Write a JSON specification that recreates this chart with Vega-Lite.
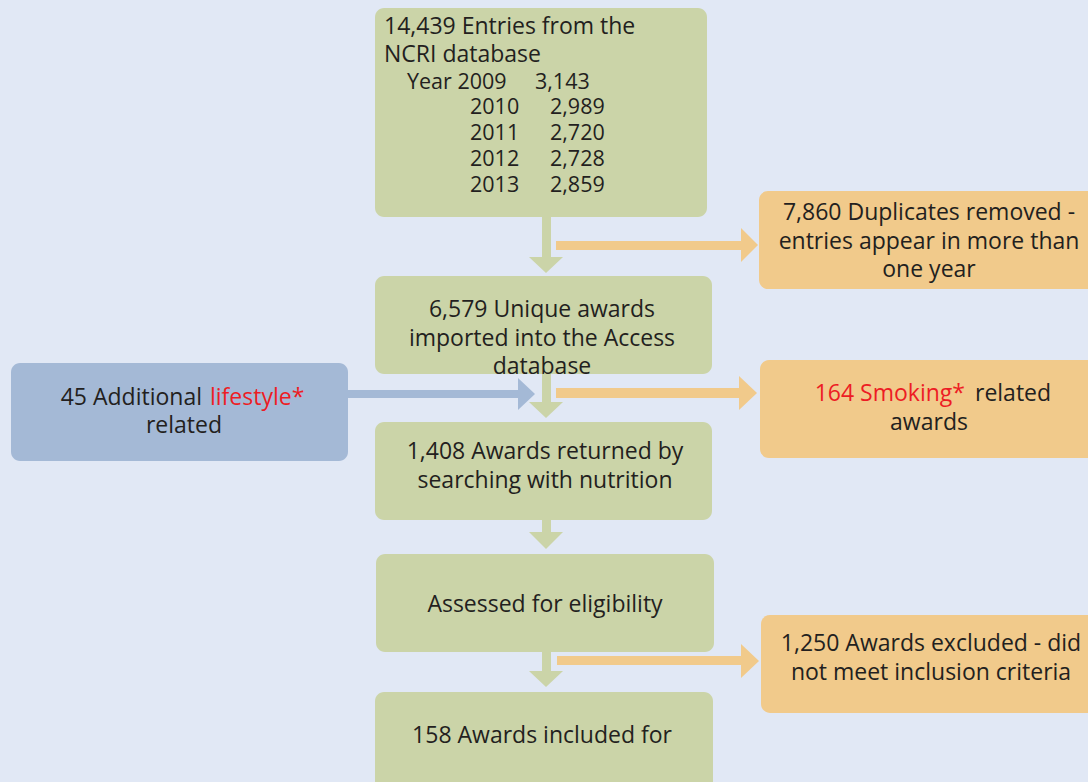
{
  "$schema": "https://vega.github.io/schema/vega-lite/v6.json",
  "width": 1088,
  "height": 782,
  "autosize": {"type": "fit", "contains": "padding"},
  "padding": 0,
  "background": "#e1e8f5",
  "config": {"view": {"stroke": null}},
  "datasets": {
    "boxes": [
      {"node": "entries", "x0": 375, "x1": 707, "y0": 8, "y1": 217, "group": "green"},
      {"node": "duplicates", "x0": 759, "x1": 1110, "y0": 191, "y1": 289, "group": "orange"},
      {"node": "unique", "x0": 375, "x1": 712, "y0": 276, "y1": 374, "group": "green"},
      {"node": "lifestyle", "x0": 11, "x1": 348, "y0": 363, "y1": 461, "group": "blue"},
      {"node": "smoking", "x0": 760, "x1": 1110, "y0": 360, "y1": 458, "group": "orange"},
      {"node": "returned", "x0": 375, "x1": 712, "y0": 422, "y1": 520, "group": "green"},
      {"node": "assessed", "x0": 376, "x1": 714, "y0": 554, "y1": 652, "group": "green"},
      {"node": "excluded", "x0": 761, "x1": 1110, "y0": 615, "y1": 713, "group": "orange"},
      {"node": "included", "x0": 375, "x1": 713, "y0": 692, "y1": 810, "group": "green"}
    ],
    "shafts": [
      {"id": "g1", "x0": 542, "x1": 551, "y0": 217, "y1": 258, "group": "green"},
      {"id": "g2", "x0": 542, "x1": 551, "y0": 374, "y1": 403, "group": "green"},
      {"id": "g3", "x0": 542, "x1": 551, "y0": 520, "y1": 533, "group": "green"},
      {"id": "g4", "x0": 542, "x1": 551, "y0": 652, "y1": 672, "group": "green"},
      {"id": "o1", "x0": 556, "x1": 742, "y0": 241, "y1": 250, "group": "orange"},
      {"id": "o2", "x0": 556, "x1": 740, "y0": 388, "y1": 398, "group": "orange"},
      {"id": "o3", "x0": 557, "x1": 742, "y0": 656, "y1": 665, "group": "orange"},
      {"id": "b1", "x0": 348, "x1": 519, "y0": 390, "y1": 398, "group": "blue"}
    ],
    "headsDown": [
      {"id": "g1", "y": 257, "xa": 529, "xb": 563, "group": "green"},
      {"id": "g1", "y": 273, "xa": 546, "xb": 546, "group": "green"},
      {"id": "g2", "y": 402, "xa": 529, "xb": 563, "group": "green"},
      {"id": "g2", "y": 418, "xa": 546, "xb": 546, "group": "green"},
      {"id": "g3", "y": 532, "xa": 529, "xb": 563, "group": "green"},
      {"id": "g3", "y": 549, "xa": 546, "xb": 546, "group": "green"},
      {"id": "g4", "y": 671, "xa": 529, "xb": 563, "group": "green"},
      {"id": "g4", "y": 687, "xa": 546, "xb": 546, "group": "green"}
    ],
    "headsRight": [
      {"id": "o1", "x": 741, "ya": 228, "yb": 262, "group": "orange"},
      {"id": "o1", "x": 758, "ya": 245, "yb": 245, "group": "orange"},
      {"id": "o2", "x": 739, "ya": 376, "yb": 410, "group": "orange"},
      {"id": "o2", "x": 757, "ya": 393, "yb": 393, "group": "orange"},
      {"id": "o3", "x": 741, "ya": 644, "yb": 678, "group": "orange"},
      {"id": "o3", "x": 759, "ya": 661, "yb": 661, "group": "orange"},
      {"id": "b1", "x": 518, "ya": 378, "yb": 410, "group": "blue"},
      {"id": "b1", "x": 535, "ya": 394, "yb": 394, "group": "blue"}
    ],
    "labels": [
      {"text": "14,439 Entries from the", "x": 384, "y": 27, "anchor": "left", "tier": "main", "tone": "plain"},
      {"text": "NCRI database", "x": 384, "y": 55, "anchor": "left", "tier": "main", "tone": "plain"},
      {"text": "Year 2009", "x": 407, "y": 83, "anchor": "left", "tier": "sub", "tone": "plain"},
      {"text": "3,143", "x": 535, "y": 83, "anchor": "left", "tier": "sub", "tone": "plain"},
      {"text": "2010", "x": 470, "y": 108, "anchor": "left", "tier": "sub", "tone": "plain"},
      {"text": "2,989", "x": 550, "y": 108, "anchor": "left", "tier": "sub", "tone": "plain"},
      {"text": "2011", "x": 470, "y": 134, "anchor": "left", "tier": "sub", "tone": "plain"},
      {"text": "2,720", "x": 550, "y": 134, "anchor": "left", "tier": "sub", "tone": "plain"},
      {"text": "2012", "x": 470, "y": 160, "anchor": "left", "tier": "sub", "tone": "plain"},
      {"text": "2,728", "x": 550, "y": 160, "anchor": "left", "tier": "sub", "tone": "plain"},
      {"text": "2013", "x": 470, "y": 186, "anchor": "left", "tier": "sub", "tone": "plain"},
      {"text": "2,859", "x": 550, "y": 186, "anchor": "left", "tier": "sub", "tone": "plain"},
      {"text": "7,860 Duplicates removed -", "x": 929, "y": 213, "anchor": "center", "tier": "main", "tone": "plain"},
      {"text": "entries appear in more than", "x": 929, "y": 242, "anchor": "center", "tier": "main", "tone": "plain"},
      {"text": "one year", "x": 929, "y": 270, "anchor": "center", "tier": "main", "tone": "plain"},
      {"text": "6,579 Unique awards", "x": 542, "y": 310, "anchor": "center", "tier": "main", "tone": "plain"},
      {"text": "imported into the Access", "x": 542, "y": 339, "anchor": "center", "tier": "main", "tone": "plain"},
      {"text": "database", "x": 542, "y": 367, "anchor": "center", "tier": "main", "tone": "plain"},
      {"text": "45 Additional", "x": 202, "y": 398, "anchor": "right", "tier": "main", "tone": "plain"},
      {"text": "lifestyle*", "x": 210, "y": 398, "anchor": "left", "tier": "main", "tone": "keyword"},
      {"text": "related", "x": 184, "y": 426, "anchor": "center", "tier": "main", "tone": "plain"},
      {"text": "164 Smoking*", "x": 965, "y": 394, "anchor": "right", "tier": "main", "tone": "keyword"},
      {"text": "related", "x": 975, "y": 394, "anchor": "left", "tier": "main", "tone": "plain"},
      {"text": "awards", "x": 929, "y": 423, "anchor": "center", "tier": "main", "tone": "plain"},
      {"text": "1,408 Awards returned by", "x": 545, "y": 452, "anchor": "center", "tier": "main", "tone": "plain"},
      {"text": "searching with nutrition", "x": 545, "y": 481, "anchor": "center", "tier": "main", "tone": "plain"},
      {"text": "Assessed for eligibility", "x": 545, "y": 605, "anchor": "center", "tier": "main", "tone": "plain"},
      {"text": "1,250 Awards excluded - did", "x": 931, "y": 644, "anchor": "center", "tier": "main", "tone": "plain"},
      {"text": "not meet inclusion criteria", "x": 931, "y": 673, "anchor": "center", "tier": "main", "tone": "plain"},
      {"text": "158 Awards included for", "x": 542, "y": 736, "anchor": "center", "tier": "main", "tone": "plain"}
    ]
  },
  "layer": [
    {
      "data": {"name": "boxes"},
      "mark": {"type": "rect", "cornerRadius": 9, "clip": true},
      "encoding": {
        "x": {"field": "x0", "type": "quantitative", "scale": {"domain": [0, 1088], "nice": false, "zero": false}, "axis": null},
        "x2": {"field": "x1"},
        "y": {"field": "y0", "type": "quantitative", "scale": {"domain": [0, 782], "nice": false, "zero": false, "reverse": true}, "axis": null},
        "y2": {"field": "y1"},
        "color": {"field": "group", "type": "nominal", "legend": null, "scale": {"domain": ["green", "orange", "blue", "plain", "keyword"], "range": ["#cbd4a8", "#f1ca8b", "#a4b9d6", "#231f20", "#ed1c24"]}}
      }
    },
    {
      "data": {"name": "shafts"},
      "mark": {"type": "rect", "clip": true},
      "encoding": {
        "x": {"field": "x0", "type": "quantitative", "axis": null},
        "x2": {"field": "x1"},
        "y": {"field": "y0", "type": "quantitative", "axis": null},
        "y2": {"field": "y1"},
        "color": {"field": "group", "type": "nominal", "legend": null}
      }
    },
    {
      "data": {"name": "headsDown"},
      "mark": {"type": "area", "orient": "horizontal", "clip": true},
      "encoding": {
        "y": {"field": "y", "type": "quantitative", "axis": null},
        "x": {"field": "xa", "type": "quantitative", "axis": null},
        "x2": {"field": "xb"},
        "detail": {"field": "id"},
        "color": {"field": "group", "type": "nominal", "legend": null}
      }
    },
    {
      "data": {"name": "headsRight"},
      "mark": {"type": "area", "orient": "vertical", "clip": true},
      "encoding": {
        "x": {"field": "x", "type": "quantitative", "axis": null},
        "y": {"field": "ya", "type": "quantitative", "axis": null},
        "y2": {"field": "yb"},
        "detail": {"field": "id"},
        "color": {"field": "group", "type": "nominal", "legend": null}
      }
    },
    {
      "data": {"name": "labels"},
      "transform": [{"filter": "datum.anchor === 'center' && datum.tier === 'main'"}],
      "mark": {"type": "text", "align": "center", "baseline": "middle", "font": "Open Sans", "fontSize": 23},
      "encoding": {
        "x": {"field": "x", "type": "quantitative", "axis": null},
        "y": {"field": "y", "type": "quantitative", "axis": null},
        "text": {"field": "text"},
        "color": {"field": "tone", "type": "nominal", "legend": null}
      }
    },
    {
      "data": {"name": "labels"},
      "transform": [{"filter": "datum.anchor === 'left' && datum.tier === 'main'"}],
      "mark": {"type": "text", "align": "left", "baseline": "middle", "font": "Open Sans", "fontSize": 23},
      "encoding": {
        "x": {"field": "x", "type": "quantitative", "axis": null},
        "y": {"field": "y", "type": "quantitative", "axis": null},
        "text": {"field": "text"},
        "color": {"field": "tone", "type": "nominal", "legend": null}
      }
    },
    {
      "data": {"name": "labels"},
      "transform": [{"filter": "datum.anchor === 'right' && datum.tier === 'main'"}],
      "mark": {"type": "text", "align": "right", "baseline": "middle", "font": "Open Sans", "fontSize": 23},
      "encoding": {
        "x": {"field": "x", "type": "quantitative", "axis": null},
        "y": {"field": "y", "type": "quantitative", "axis": null},
        "text": {"field": "text"},
        "color": {"field": "tone", "type": "nominal", "legend": null}
      }
    },
    {
      "data": {"name": "labels"},
      "transform": [{"filter": "datum.tier === 'sub'"}],
      "mark": {"type": "text", "align": "left", "baseline": "middle", "font": "Open Sans", "fontSize": 21.5},
      "encoding": {
        "x": {"field": "x", "type": "quantitative", "axis": null},
        "y": {"field": "y", "type": "quantitative", "axis": null},
        "text": {"field": "text"},
        "color": {"field": "tone", "type": "nominal", "legend": null}
      }
    }
  ]
}
